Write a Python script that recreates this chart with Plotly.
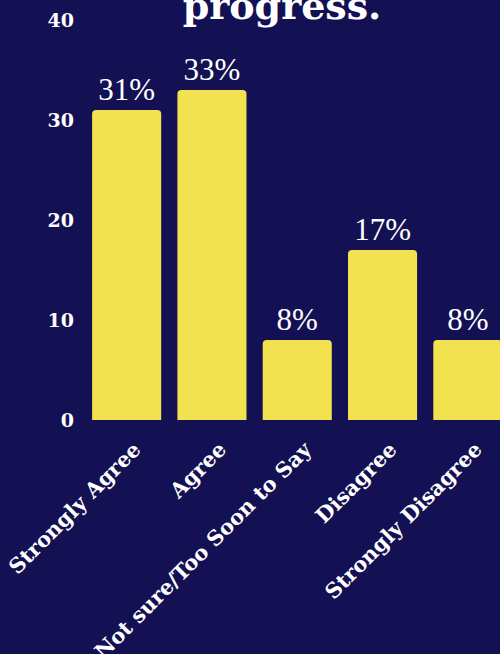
import plotly.graph_objects as go

# Survey responses
categories = ["Strongly Agree", "Agree", "Not sure/Too Soon to Say", "Disagree", "Strongly Disagree"]
percentages = [31, 33, 8, 17, 8]
y_ticks = [0, 10, 20, 30, 40]

BG = "#131153"
BAR = "#F2E250"
SERIF = "DejaVu Serif"

fig = go.Figure(
    go.Bar(
        x=categories,
        y=percentages,
        marker=dict(color=BAR, line=dict(width=0), cornerradius=4),
        text=[f"{p}%" for p in percentages],
        textposition="outside",
        textfont=dict(family="Liberation Serif", size=31, color="white"),
        cliponaxis=False,
        hoverinfo="skip",
    )
)

fig.update_layout(
    width=500,
    height=654,
    paper_bgcolor=BG,
    plot_bgcolor=BG,
    margin=dict(l=84, r=0, t=20, b=234, autoexpand=False),
    bargap=0.19,
    showlegend=False,
    title=dict(
        text="<b>progress.</b>",
        font=dict(family=SERIF, size=38, color="white"),
        x=0.564,
        xanchor="center",
        xref="container",
        y=0.991,
        yref="container",
        yanchor="middle",
        automargin=False,
    ),
    xaxis=dict(
        range=[-0.5, 4.377],
        tickangle=-45,
        tickfont=dict(family=SERIF, size=21, color="white", weight="bold"),
        showgrid=False,
        zeroline=False,
        showline=False,
        ticks="",
        ticklabelstandoff=12,
        ticklabelshift=8,
        automargin=False,
    ),
    yaxis=dict(
        range=[0, 40],
        tickvals=y_ticks,
        tickfont=dict(family=SERIF, size=19, color="white", weight="bold"),
        showgrid=False,
        zeroline=False,
        showline=False,
        ticks="",
        ticklabelstandoff=9,
        automargin=False,
    ),
)

fig.write_html("out.html")
